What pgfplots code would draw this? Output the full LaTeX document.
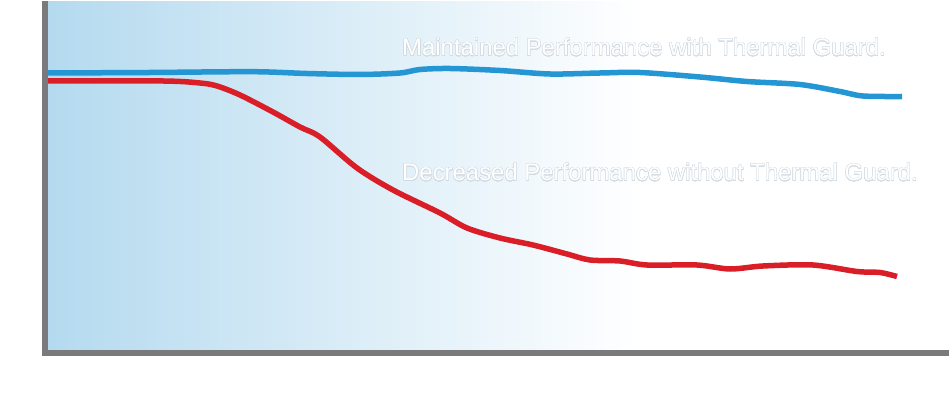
\documentclass[border=0pt]{standalone}
\usepackage{pgfplots}
\pgfplotsset{compat=1.18}
\usepackage{fontspec}
\setmainfont{Liberation Sans}
\usepackage{contour}
\contourlength{0.35pt}
\contournumber{16}
\definecolor{bgblue}{RGB}{180,218,239}
\definecolor{axgray}{RGB}{122,122,125}
\definecolor{lineblue}{RGB}{37,150,212}
\definecolor{linered}{RGB}{218,30,40}
\definecolor{halo}{RGB}{210,218,226}
\begin{document}
\begin{tikzpicture}
\begin{axis}[
  at={(0,0)}, anchor=south west,
  width=950bp, height=399bp, scale only axis,
  xmin=0, xmax=950, ymin=0, ymax=399,
  hide axis, clip=false,
]
\path (axis cs:0,0) rectangle (axis cs:950,399);
\shade[left color=bgblue, right color=white] (axis cs:48,49) rectangle (axis cs:640,397.5);
\fill[axgray] (axis cs:42,43) rectangle (axis cs:48,397.7);
\fill[axgray] (axis cs:42,43) rectangle (axis cs:949,49);
\addplot[lineblue, line width=5.5bp, smooth, tension=0.5] coordinates {
(48,326) (150,326.5) (253,327.3) (307,325.5) (360,324.5) (400,326) (420,329.5) (450,330.5) (500,328.5) (550,325) (600,326) (640,326.5) (700,322) (747,317.5) (800,314.5) (840,307.5) (863,303) (902,302.5)
};
\addplot[linered, line width=5.5bp, smooth, tension=0.5] coordinates {
(48,318) (163,318) (200,316) (217,313) (240,304) (273,287) (300,272) (320,262) (357,231) (393,209) (440,186) (467,171) (500,161) (533,154) (567,145) (590,139) (620,138) (647,134) (697,134) (730,130) (763,133) (813,134) (857,127.5) (880,126.5) (897,122.5)
};
\node[anchor=base west, inner sep=0pt, font=\fontsize{24}{28}\selectfont] at (axis cs:402,343) {\contour{halo}{\textcolor{white}{Maintained Performance with Thermal Guard.}}};
\node[anchor=base west, inner sep=0pt, font=\fontsize{24}{28}\selectfont] at (axis cs:402,218) {\contour{halo}{\textcolor{white}{Decreased Performance without Thermal Guard.}}};
\end{axis}
\end{tikzpicture}
\end{document}
